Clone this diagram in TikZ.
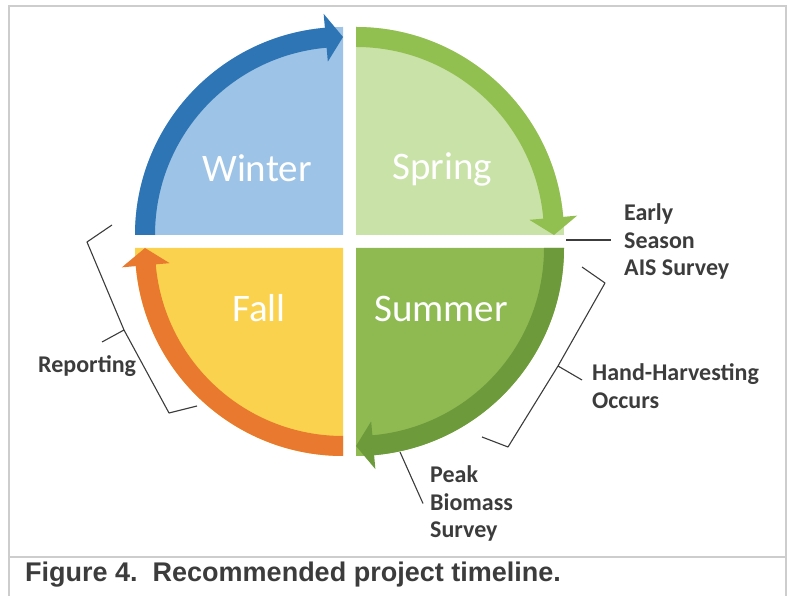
\documentclass[tikz,border=0pt]{standalone}
\usepackage{fontspec}
\setmainfont{Carlito}
\newfontfamily\captionfont{Liberation Sans}
\usetikzlibrary{calc, positioning}

\definecolor{winterfill}{HTML}{9DC3E6}
\definecolor{winterarrow}{HTML}{2E75B6}
\definecolor{springfill}{HTML}{C9E2A8}
\definecolor{springarrow}{HTML}{92C050}
\definecolor{summerfill}{HTML}{8FBA52}
\definecolor{summerarrow}{HTML}{6D9A3B}
\definecolor{fallfill}{HTML}{FAD24E}
\definecolor{fallarrow}{HTML}{E8792F}
\definecolor{notegray}{HTML}{3C3C3C}
\definecolor{framegray}{HTML}{CDCDCD}

\begin{document}
\begin{tikzpicture}[x=1pt, y=1pt,
    season/.style={text=white, inner sep=0pt, font=\fontsize{39}{39}\selectfont},
    note/.style={text=notegray, inner sep=0pt, align=left,
                 font=\bfseries\fontsize{24}{27.5}\selectfont},
    bracket/.style={draw=notegray, line width=1.1pt, line join=round}]

  \useasboundingbox (0,0) rectangle (789,596);

  % frame and caption rule
  \draw[framegray, line width=1.5pt] (9,0) -- (9,590) -- (786,590) -- (786,0);
  \draw[framegray, line width=1.5pt] (9,39) -- (786,39);

  % winter
  \begin{scope}[shift={(343,361)}]
    \fill[winterfill] (0,0) -- (180:208) arc[start angle=180, end angle=90, radius=208] -- cycle;
    \fill[winterarrow] (180:188) arc[start angle=180, end angle=95, radius=188]
      -- (95:174) -- (90:198) -- (95:222) -- (95:208)
      arc[start angle=95, end angle=180, radius=208] -- cycle;
  \end{scope}

  % spring
  \begin{scope}[shift={(356,361)}]
    \fill[springfill] (0,0) -- (90:208) arc[start angle=90, end angle=0, radius=208] -- cycle;
    \fill[springarrow] (90:188) arc[start angle=90, end angle=5, radius=188]
      -- (5:174) -- (0:198) -- (5:222) -- (5:208)
      arc[start angle=5, end angle=90, radius=208] -- cycle;
  \end{scope}

  % summer
  \begin{scope}[shift={(356,348)}]
    \fill[summerfill] (0,0) -- (0:208) arc[start angle=0, end angle=-90, radius=208] -- cycle;
    \fill[summerarrow] (0:188) arc[start angle=0, end angle=-85, radius=188]
      -- (-85:174) -- (-90:198) -- (-85:222) -- (-85:208)
      arc[start angle=-85, end angle=0, radius=208] -- cycle;
  \end{scope}

  % fall
  \begin{scope}[shift={(343,348)}]
    \fill[fallfill] (0,0) -- (270:208) arc[start angle=270, end angle=180, radius=208] -- cycle;
    \fill[fallarrow] (270:188) arc[start angle=270, end angle=185, radius=188]
      -- (185:174) -- (180:198) -- (185:222) -- (185:208)
      arc[start angle=185, end angle=270, radius=208] -- cycle;
  \end{scope}

  \node[season, anchor=base] (winter) at (257,414) {Winter};
  \node[season, anchor=base] (spring) at (442,416) {Spring};
  \node[season, anchor=base] (fall)   at (259,274) {Fall};
  \node[season, anchor=base] (summer) at (441,274) {Summer};

  % notes
  \node[note, anchor=north west, inner xsep=13pt] (early) at (611,392.5) {Early\\Season\\AIS Survey};
  \node[note, anchor=north west] (hand) at (592,232.5) {Hand-Harvesting\\Occurs};
  \node[note, anchor=north west, inner xsep=7pt] (peak) at (423,130.5) {Peak\\Biomass\\Survey};
  \node[note, anchor=base west] (report) at (38,223) {Reporting};

  \coordinate (earlypt) at (566,356);
  \coordinate (peakpt) at (400,144);
  \draw[bracket] (earlypt) -- (earlypt -| early.west);
  \draw[bracket] (peakpt) -- (peak.west);

  % brackets
  \draw[bracket] (582,329) -- (605,313) -- (558,230) -- (508,149) -- (482,159)
    (558,230) -- (582,216);
  \draw[bracket] (112,371) -- (87,354) -- (124,266) -- (169,183) -- (197,190)
    (124,266) -- (102,254);

  \node[anchor=base west, inner sep=0pt, text=notegray,
        font=\captionfont\bfseries\fontsize{27}{27}\selectfont] (caption)
    at (25,14) {Figure 4.\ \ Recommended project timeline.};

\end{tikzpicture}
\end{document}
